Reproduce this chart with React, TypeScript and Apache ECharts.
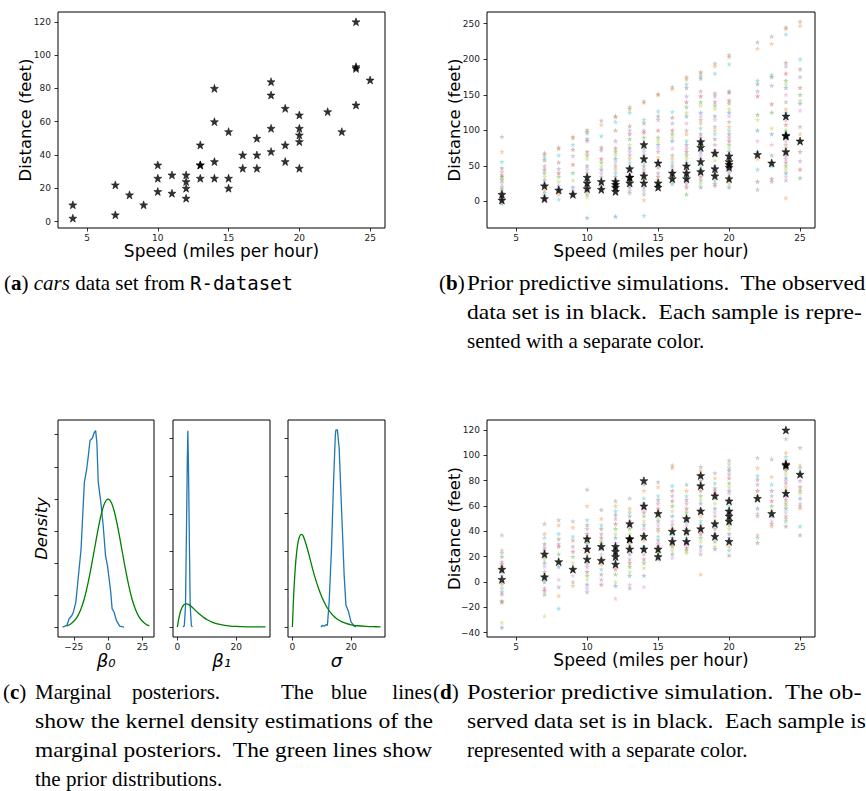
import React, { useEffect, useRef } from 'react';
import * as echarts from 'echarts';

// ---------- data ----------
const carSpeed = [4,4,7,7,8,9,10,10,10,11,11,12,12,12,12,13,13,13,13,14,14,14,14,15,15,15,16,16,17,17,17,18,18,18,18,19,19,19,20,20,20,20,20,22,23,24,24,24,24,25];
const carDist = [2,10,4,22,16,10,18,26,34,17,28,14,20,24,28,26,34,34,46,26,36,60,80,20,26,54,32,40,32,40,50,42,56,76,84,36,46,68,32,48,52,56,64,66,54,70,92,93,120,85];

const speedLevels = [4,7,8,9,10,11,12,13,14,15,16,17,18,19,20,22,23,24,25];

const priorSims = [
  [91,70,56,47,42,37,35,32,30,26,21,18,16,12,7,5,2,-1,-3],
  [68,66,62,58,50,45,40,35,30,25,20,15,12,8,5,2],
  [76,74,65,55,46,40,35,28,22,18,14,10,3],
  [91,89,80,73,64,52,40,30,20,15,12,10,8],
  [101,98,96,88,85,70,65,60,50,45,40,35,30,25,20,15,10,6,-23],
  [114,108,92,76,72,60,55,50,45,40,35,28,24,20,16],
  [120,119,112,100,85,75,70,65,60,55,50,45,40,35,30,25,20,15,-21],
  [133,130,125,106,100,95,88,80,75,70,65,60,55,48,40,35,30,25,20,15,12],
  [141,139,115,110,100,97,90,80,75,70,65,60,55,50,45,40,35,30,20,15,10,2,-20],
  [151,150,127,120,115,100,90,85,80,75,70,62,55,48,40,35,30,25,20],
  [161,158,126,118,110,100,95,90,85,75,65,60,55,50,45,40,35,30,25],
  [175,172,165,160,148,140,133,125,120,110,100,95,85,80,75,70,65,60,55,50,45,40,35,30,25,20,10],
  [182,180,176,173,155,148,140,135,125,120,115,110,103,95,90,85,80,75,70,65,60,55,50,45,40,35,30,25,20],
  [194,190,180,152,148,140,135,130,120,115,105,100,95,88,80,72,65,58,50,45,40,35,30,25,22],
  [206,203,193,155,153,142,138,130,125,120,112,105,100,95,90,85,80,75,70,65,60,55,50,45,40,35,30,25,20],
  [224,215,170,165,155,148,122,115,100,85,70,60,45,28,17],
  [232,222,178,175,163,137,125,103,95,80,65,55,50,32,28],
  [245,243,235,195,190,180,170,165,160,150,140,130,125,120,115,108,100,95,90,85,80,75,70,65,60,55,50,45,40,35,30,5],
  [253,247,200,186,175,160,150,142,138,128,105,95,85,70,57,45,33],
];

const postSims = [
  [37,25,23,20,16,14,12,10,8,5,0,-2,-5,-8,-10,-15,-16,-32,-36],
  [46,38,35,30,27,25,20,18,15,12,8,5,2,0,-5,-7,-10,-27],
  [49,45,38,34,30,28,22,16,12,2,-4,-11,-21],
  [48,43,36,33,28,24,20,15,10,5,0,-3],
  [73,60,49,45,42,38,35,32,30,27,25,22,18,15,12,8,5,2,-2,-5,-8],
  [57,50,45,42,38,35,32,30,26,22,18,14,10,6,2,-2],
  [64,60,56,53,50,46,42,38,35,31,28,25,22,18,14,10,6,0,-3,-13],
  [66,58,55,52,48,45,42,38,35,32,30,28,25,22,18,15,12,8,5,-2,-5],
  [77,72,66,62,58,55,52,48,45,42,38,33,28,25,22,18,15,11,5,-4],
  [79,75,68,65,62,58,55,50,48,45,42,40,36,33,30,28,25,22,18],
  [92,90,76,72,68,64,60,56,52,48,45,42,38,35,32,30,28,25,22,19],
  [77,72,68,65,62,58,55,52,48,45,42,38,35,32,30,27,25,23],
  [91,88,84,80,76,72,68,65,62,58,55,52,48,45,42,38,35,32,28,25,22,6],
  [86,82,78,74,72,70,66,62,58,55,52,48,45,42,38,35,32,28,26],
  [96,93,90,88,85,82,78,75,72,70,66,63,60,56,52,48,45,42,38,35,32,28,25,21],
  [98,90,84,81,77,72,68,65,58,54,52,37,35,31],
  [97,83,77,72,68,64,60,56,52,48,46,44],
  [113,102,99,96,93,90,88,85,82,80,78,75,72,70,68,65,62,60,58,55,52,50,48,44],
  [106,92,90,85,80,75,72,70,66,62,60,58,44,37],
];

const beta0Posterior = [[-33.2,0],[-30.0,0.0005],[-28.4,0.0026],[-26.4,0.0036],[-25.3,0.0047],[-23.5,0.0078],[-21.6,0.0161],[-19.7,0.0244],[-17.3,0.0452],[-15.6,0.0493],[-14.4,0.0535],[-13.2,0.0582],[-11.5,0.0589],[-10.1,0.0607],[-9.1,0.0613],[-8.2,0.0576],[-7.2,0.0452],[-5.3,0.0389],[-3.6,0.0317],[-1.9,0.0223],[-0.5,0.0192],[0.7,0.0151],[1.9,0.0109],[2.9,0.0057],[4.3,0.0047],[6.0,0.0021],[8.4,0.0003],[11.5,0]];
const beta0Prior = [[-30,0.0004],[-27.5,0.0009],[-25,0.0018],[-22.5,0.0032],[-20,0.0054],[-17.5,0.0086],[-15,0.013],[-12.5,0.0183],[-10,0.0242],[-7.5,0.0301],[-5,0.0352],[-2.5,0.0387],[0,0.0399],[2.5,0.0387],[5,0.0352],[7.5,0.0301],[10,0.0242],[12.5,0.0183],[15,0.013],[17.5,0.0086],[20,0.0054],[22.5,0.0032],[25,0.0018],[27.5,0.0009],[30,0.0004]];
const beta1Posterior = [[1.9,0],[2.35,0.007],[2.75,0.11],[3.15,0.6],[3.35,0.87],[3.55,1.04],[3.75,0.87],[3.95,0.6],[4.35,0.11],[4.75,0.007],[5.1,0]];
const sigmaPosterior = [[9.7,0],[10.2,0.002],[10.8,0.001],[11.4,0.003],[11.9,0.002],[12.5,0.033],[13.3,0.104],[14.0,0.192],[14.6,0.254],[14.8,0.261],[15.3,0.261],[15.9,0.237],[16.8,0.148],[17.6,0.069],[18.2,0.029],[19.1,0.02],[19.9,0.007],[21.0,0.001],[21.6,0]];
const gammaPrior = [[0,0],[0.25,0.0254],[0.5,0.0472],[1,0.0796],[1.5,0.1011],[2,0.1141],[2.5,0.1205],[3,0.1226],[3.5,0.1215],[4,0.1172],[5,0.1049],[6,0.0902],[7,0.075],[8,0.0617],[9,0.0498],[10,0.0397],[12,0.0244],[14,0.0146],[16,0.0086],[18,0.005],[20,0.0028],[22,0.0016],[25,0.0007],[28,0.0003],[30,0.0002]];

const speedTicks = [5,10,15,20,25];
const distTicksA = [0,20,40,60,80,100,120];
const distTicksB = [0,50,100,150,200,250];
const distTicksD = [-40,-20,0,20,40,60,80,100,120];
const beta0Ticks = [-25,0,25];
const zeroTwentyTicks = [0,20];
const dens0Ticks = [0,0.01,0.02,0.03,0.04,0.05,0.06];
const dens1Ticks = [0,0.2,0.4,0.6,0.8,1.0];
const dens2Ticks = [0,0.05,0.1,0.15,0.2,0.25];

const tab10 = ['#1f77b4','#ff7f0e','#2ca02c','#d62728','#9467bd','#8c564b','#e377c2','#7f7f7f','#bcbd22','#17becf'];
const colorOrder = [7,1,9,5,4,3,2,8,0,6];

const STAR = 'path://M0,-10 L2.35,-3.24 L9.51,-3.09 L3.8,1.24 L5.88,8.09 L0,4 L-5.88,8.09 L-3.8,1.24 L-9.51,-3.09 L-2.35,-3.24 Z';
const SANS = '"DejaVu Sans", sans-serif';
const SERIF = '"Liberation Serif", "DejaVu Serif", serif';
const MONO = '"DejaVu Sans Mono", "Liberation Mono", monospace';

const fmtMinus = (v: number) => String(v).replace('-', '\u2212');

function xAxis(gridIndex: number, min: number, max: number, ticks: number[], name: string, extra: any = {}) {
  return {
    type: 'value', gridIndex, min, max,
    axisLine: { show: false, onZero: false },
    splitLine: { show: false },
    axisTick: { show: true, length: 3.5, customValues: ticks, lineStyle: { color: '#000', width: 0.8 } },
    axisLabel: { customValues: ticks, fontSize: 9, color: '#222', margin: 5, fontFamily: SANS, formatter: fmtMinus },
    name, nameLocation: 'middle', nameGap: 3,
    nameTextStyle: { fontSize: 17, fontFamily: SANS, color: '#000', verticalAlign: 'top' },
    ...extra,
  };
}
function yAxis(gridIndex: number, min: number, max: number, ticks: number[], name: string, showLabels = true, extra: any = {}) {
  return {
    type: 'value', gridIndex, min, max,
    axisLine: { show: false, onZero: false },
    splitLine: { show: false },
    axisTick: { show: true, length: 3.5, customValues: ticks, lineStyle: { color: '#000', width: 0.8 } },
    axisLabel: { show: showLabels, customValues: ticks, fontSize: 9, color: '#222', margin: 7, fontFamily: SANS, formatter: fmtMinus },
    name, nameLocation: 'middle', nameGap: 24, nameMoveOverlap: false,
    nameTextStyle: { fontSize: 16.5, fontFamily: SANS, color: '#000' },
    ...extra,
  };
}

function simSeries(sims: number[][], xi: number) {
  const buckets: number[][][] = tab10.map(() => []);
  sims.forEach((vals, li) => vals.forEach((v, k) => buckets[colorOrder[k % 10]].push([speedLevels[li], v])));
  return buckets.map((data, ci) => ({
    type: 'scatter', xAxisIndex: xi, yAxisIndex: xi, data, symbol: STAR, symbolSize: 5.5,
    itemStyle: { color: tab10[ci], opacity: 0.38 }, z: 3, silent: true,
  }));
}
function observed(xi: number) {
  return {
    type: 'scatter', xAxisIndex: xi, yAxisIndex: xi,
    data: carSpeed.map((s, i) => [s, carDist[i]]),
    symbol: STAR, symbolSize: 8, itemStyle: { color: '#000', borderColor: '#000', borderWidth: 0.6 }, z: 4, silent: true,
  };
}
function curve(data: number[][], xi: number, color: string, smooth: any = false) {
  return {
    type: 'line', xAxisIndex: xi, yAxisIndex: xi, data, showSymbol: false, smooth,
    lineStyle: { color, width: 1.3 }, z: 3, silent: true,
  };
}

export default function App() {
  const ref = useRef<HTMLDivElement>(null);
  useEffect(() => {
    if (!ref.current) return;
    const chart = echarts.init(ref.current, null, { renderer: 'svg' });
    const capSize = 21;
    const ctx = document.createElement('canvas').getContext('2d');
    const measure = (t: string) => {
      if (!ctx) return 0;
      ctx.font = `${capSize}px "Liberation Serif"`;
      return ctx.measureText(t).width;
    };
    const justLine = (t: string, x: number, y: number, right: number) => {
      const w = measure(t);
      const s = w > 0 ? (right - x) / w : 1;
      return {
        type: 'text', x, y, scaleX: s,
        style: { text: t, x: 0, y: 0, fill: '#000', fontSize: capSize, fontFamily: SERIF, verticalAlign: 'middle', align: 'left' },
      };
    };
    const plain = (t: string, x: number, y: number, align = 'left') => ({
      type: 'text', x, y,
      style: { text: t, x: 0, y: 0, fill: '#000', fontSize: capSize, fontFamily: SERIF, verticalAlign: 'middle', align },
    });
    const label = (letter: string, x: number, y: number) => ({
      type: 'text', x, y,
      style: {
        text: `{n|(}{b|${letter}}{n|)}`, x: 0, y: 0, verticalAlign: 'middle', align: 'left',
        fontSize: capSize, fontFamily: SERIF, fill: '#000',
        rich: { n: { fontSize: capSize, fontFamily: SERIF }, b: { fontSize: capSize, fontFamily: SERIF, fontWeight: 'bold' } },
      },
    });
    const graphic = [
      {
        type: 'text', x: 4, y: 283,
        style: {
          text: '{n|(}{b|a}{n|) }{i|cars}{n| data set from }{m|R-dataset}', x: 0, y: 0,
          verticalAlign: 'middle', align: 'left', fill: '#000', fontSize: capSize, fontFamily: SERIF,
          rich: {
            n: { fontSize: capSize, fontFamily: SERIF },
            b: { fontSize: capSize, fontFamily: SERIF, fontWeight: 'bold' },
            i: { fontSize: capSize, fontFamily: SERIF, fontStyle: 'italic' },
            m: { fontSize: 19, fontFamily: MONO },
          },
        },
      },
      label('b', 439, 283),
      justLine('Prior predictive simulations.  The observed', 467, 283, 866),
      justLine('data set is in black.  Each sample is repre-', 467, 312, 862),
      plain('sented with a separate color.', 467, 341),
      label('c', 3, 692),
      plain('Marginal', 35, 692),
      plain('posteriors.', 132, 692),
      plain('The', 281, 692),
      plain('blue', 331, 692),
      plain('lines', 432, 692, 'right'),
      justLine('show the kernel density estimations of the', 35, 721, 433),
      justLine('marginal posteriors.  The green lines show', 35, 750, 433),
      plain('the prior distributions.', 35, 779),
      label('d', 433, 692),
      justLine('Posterior predictive simulation.  The ob-', 467, 692, 862),
      justLine('served data set is in black.  Each sample is', 467, 721, 866),
      plain('represented with a separate color.', 467, 750),
    ];

    const betaName = { nameGap: 11, nameTextStyle: { fontSize: 18, fontFamily: SANS, fontStyle: 'italic', color: '#000', verticalAlign: 'top' } };
    const gridBase = { show: true, borderColor: '#000', borderWidth: 1, backgroundColor: '#fff' };
    const option: any = {
      animation: false,
      backgroundColor: '#fff',
      grid: [
        { ...gridBase, left: 58, top: 12, width: 327, height: 216 },
        { ...gridBase, left: 487, top: 12, width: 328, height: 216 },
        { ...gridBase, left: 58, top: 420, width: 96, height: 217 },
        { ...gridBase, left: 173, top: 420, width: 97, height: 217 },
        { ...gridBase, left: 288, top: 420, width: 97, height: 217 },
        { ...gridBase, left: 487, top: 420, width: 328, height: 217 },
      ],
      xAxis: [
        xAxis(0, 2.95, 26.05, speedTicks, 'Speed (miles per hour)'),
        xAxis(1, 2.95, 26.05, speedTicks, 'Speed (miles per hour)'),
        xAxis(2, -36.5, 33.4, beta0Ticks, '\u03b2\u2080', betaName),
        xAxis(3, -1.5, 31.5, zeroTwentyTicks, '\u03b2\u2081', betaName),
        xAxis(4, -1.5, 31.5, zeroTwentyTicks, '\u03c3', betaName),
        xAxis(5, 2.95, 26.05, speedTicks, 'Speed (miles per hour)'),
      ],
      yAxis: [
        yAxis(0, -3.9, 125.9, distTicksA, 'Distance (feet)'),
        yAxis(1, -37.3, 266.4, distTicksB, 'Distance (feet)'),
        yAxis(2, -0.0031, 0.0646, dens0Ticks, 'Density', false, { nameGap: 8, nameTextStyle: { fontSize: 16.5, fontFamily: SANS, fontStyle: 'italic', color: '#000' } }),
        yAxis(3, -0.053, 1.097, dens1Ticks, '', false),
        yAxis(4, -0.0133, 0.274, dens2Ticks, '', false),
        yAxis(5, -43.5, 127.9, distTicksD, 'Distance (feet)'),
      ],
      series: [
        observed(0),
        observed(1),
        ...simSeries(priorSims, 1),
        curve(beta0Posterior, 2, '#1f77b4'),
        curve(beta0Prior, 2, '#008000', 0.3),
        curve(beta1Posterior, 3, '#1f77b4'),
        curve(gammaPrior, 3, '#008000', 0.3),
        curve(sigmaPosterior, 4, '#1f77b4'),
        curve(gammaPrior, 4, '#008000', 0.3),
        observed(5),
        ...simSeries(postSims, 5),
      ],
      graphic,
    };
    chart.setOption(option);
    return () => chart.dispose();
  }, []);
  return <div ref={ref} style={{ position: 'absolute', left: 0, top: 0, width: 866, height: 791 }} />;
}
